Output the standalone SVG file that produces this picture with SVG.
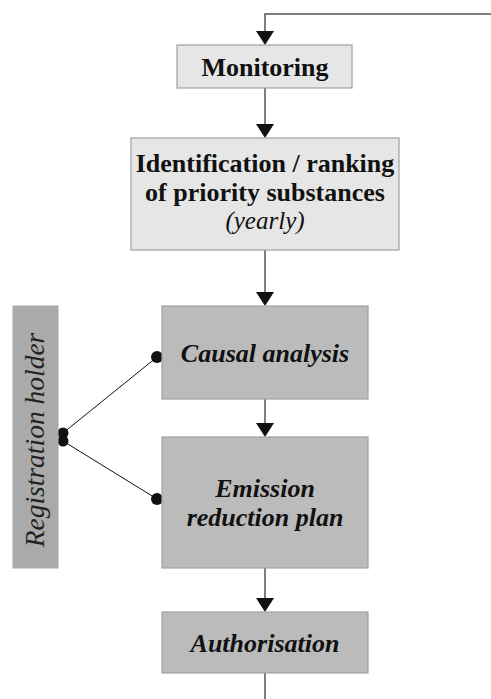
<svg xmlns="http://www.w3.org/2000/svg" width="491" height="699" viewBox="0 0 491 699">
<defs>
<style>
.light{fill:#e6e6e6;stroke:#a0a0a0;stroke-width:1.2}
.dark{fill:#bbbbbb;stroke:#a0a0a0;stroke-width:1.2}
.side{fill:#aaaaaa;stroke:#a8a8a8;stroke-width:1}
.t{font-family:"Liberation Serif","Times New Roman",serif;font-size:26px;fill:#111;text-anchor:middle}
.b{font-weight:bold}
.i{font-style:italic}
.flow{stroke:#555;stroke-width:1.5;fill:none}
.link{stroke:#111;stroke-width:1;fill:none}
.head{fill:#111}
</style>
</defs>
<g id="connectors">
<path class="flow" d="M491,14 H265 V32"/>
<path class="flow" d="M265,88 V125"/>
<path class="flow" d="M265,250 V293"/>
<path class="flow" d="M265,399 V424"/>
<path class="flow" d="M265,568 V599"/>
<path class="flow" d="M265,673 V699"/>
<path class="head" d="M256,31 H274 L265,45 Z"/>
<path class="head" d="M256,124 H274 L265,138 Z"/>
<path class="head" d="M256,292 H274 L265,306 Z"/>
<path class="head" d="M256,423 H274 L265,437 Z"/>
<path class="head" d="M256,598 H274 L265,612 Z"/>
<line class="link" x1="63" y1="433" x2="157" y2="357"/>
<line class="link" x1="63" y1="441" x2="157" y2="499"/>
<circle cx="157" cy="357" r="6" fill="#111"/>
<circle cx="157" cy="499" r="6" fill="#111"/>
<circle cx="63" cy="433" r="5.5" fill="#111"/>
<circle cx="63" cy="441" r="5.5" fill="#111"/>
</g>
<g id="monitoring">
<rect class="light" x="177" y="45" width="175" height="43"/>
<text class="t b" x="265" y="76">Monitoring</text>
</g>
<g id="identification">
<rect class="light" x="131" y="138" width="268" height="112"/>
<text class="t b" x="265" y="172">Identification / ranking</text>
<text class="t b" x="265" y="201">of priority substances</text>
<text class="t i" x="265" y="229" style="font-size:25px">(yearly)</text>
</g>
<g id="causal">
<rect class="dark" x="162" y="306" width="206" height="93"/>
<text class="t b i" x="265" y="362">Causal analysis</text>
</g>
<g id="emission">
<rect class="dark" x="162" y="437" width="206" height="131"/>
<text class="t b i" x="265" y="497">Emission</text>
<text class="t b i" x="265" y="526">reduction plan</text>
</g>
<g id="authorisation">
<rect class="dark" x="162" y="612" width="206" height="61"/>
<text class="t b i" x="265" y="652">Authorisation</text>
</g>
<g id="registration">
<rect class="side" x="13" y="306" width="45" height="262"/>
<text class="t i" x="0" y="0" style="font-size:27.5px;fill:#222" transform="translate(44,440) rotate(-90)">Registration holder</text>
</g>
</svg>
